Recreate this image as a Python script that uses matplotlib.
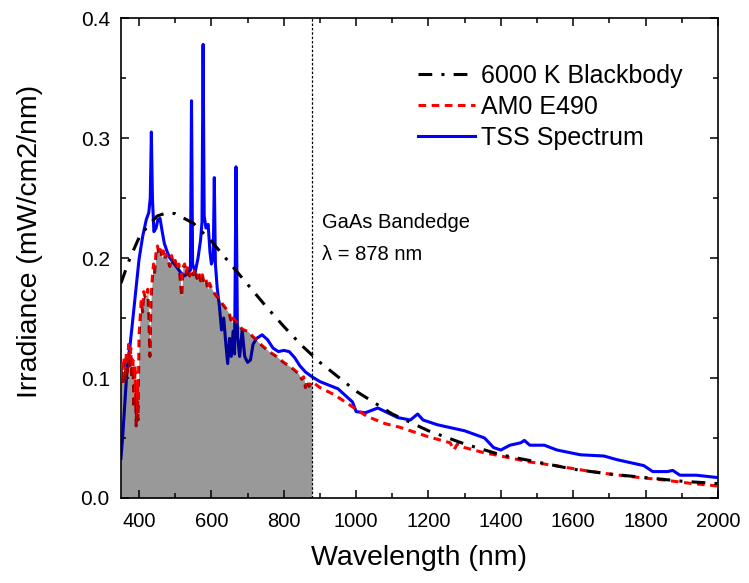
import matplotlib
matplotlib.use('Agg')
import matplotlib.pyplot as plt
from matplotlib.ticker import MultipleLocator

plt.rcParams['font.family'] = ['Liberation Sans', 'DejaVu Sans']

# 6000 K blackbody, scaled to the solar irradiance level (mW/cm2/nm)
bb_wl = [350, 375, 400, 425, 450, 475, 500, 550, 600, 650, 700, 750, 800, 850,
         900, 1000, 1100, 1200, 1300, 1400, 1500, 1600, 1700, 1800, 1900, 2000]
bb_irr = [0.179, 0.200, 0.217, 0.227, 0.235, 0.2375, 0.237, 0.229, 0.214, 0.196,
          0.178, 0.160, 0.143, 0.127, 0.113, 0.089, 0.070, 0.056, 0.045, 0.036,
          0.030, 0.024, 0.020, 0.017, 0.014, 0.012]

# ASTM E490 AM0 spectrum
am0_wl = [350, 353, 356, 359, 362, 365, 368, 371, 374, 377, 380, 383, 386, 389,
          392, 395, 397, 400, 403, 406, 410, 413, 416, 420, 424, 427, 430, 433,
          437, 440, 443, 447, 451, 455, 459, 463, 467, 471, 475, 480, 485, 490,
          495, 500, 505, 510, 515, 518, 521, 526, 530, 535, 540, 545, 550, 555,
          560, 565, 570, 575, 580, 585, 590, 595, 600, 610, 620, 630, 640, 650,
          656, 660, 670, 680, 690, 700, 720, 740, 760, 780, 800, 820, 840, 850,
          855, 860, 865, 870, 878, 900, 940, 1000, 1030, 1080, 1120, 1200, 1260,
          1270, 1280, 1300, 1350, 1400, 1480, 1550, 1630, 1700, 1770, 1850, 1930,
          2000]
am0_irr = [0.100, 0.112, 0.095, 0.118, 0.098, 0.122, 0.105, 0.128, 0.110, 0.125,
           0.100, 0.115, 0.075, 0.110, 0.060, 0.095, 0.065, 0.135, 0.150, 0.165,
           0.155, 0.172, 0.168, 0.167, 0.174, 0.152, 0.118, 0.165, 0.185, 0.195,
           0.188, 0.205, 0.210, 0.203, 0.207, 0.200, 0.206, 0.199, 0.203, 0.198,
           0.193, 0.202, 0.195, 0.198, 0.190, 0.195, 0.178, 0.168, 0.192, 0.195,
           0.187, 0.193, 0.185, 0.190, 0.186, 0.191, 0.183, 0.188, 0.181, 0.186,
           0.179, 0.182, 0.174, 0.179, 0.175, 0.170, 0.166, 0.162, 0.158, 0.153,
           0.146, 0.150, 0.146, 0.142, 0.140, 0.139, 0.133, 0.127, 0.122, 0.118,
           0.113, 0.109, 0.104, 0.099, 0.101, 0.092, 0.098, 0.093, 0.097, 0.092,
           0.086, 0.074, 0.068, 0.062, 0.059, 0.051, 0.046, 0.040, 0.045, 0.042,
           0.038, 0.035, 0.030, 0.027, 0.023, 0.020, 0.0175, 0.015, 0.012, 0.010]

# measured TSS simulator spectrum
tss_wl = [350, 355, 362, 367, 375, 380, 390, 400, 410, 420, 427, 431, 434, 437,
          441, 447, 452, 458, 464, 470, 478, 485, 495, 505, 515, 525, 535, 542,
          545, 548, 555, 563, 570, 574, 577, 580, 585, 591, 596, 600, 605, 608,
          611, 616, 622, 628, 634, 640, 645, 650, 655, 660, 664, 668, 672, 678,
          685, 692, 700, 708, 715, 725, 740, 755, 770, 785, 800, 815, 830, 845,
          860, 878, 900, 950, 990, 1000, 1025, 1060, 1115, 1150, 1170, 1185, 1225,
          1300, 1355, 1380, 1400, 1425, 1455, 1465, 1480, 1520, 1555, 1620, 1685,
          1720, 1795, 1820, 1860, 1875, 1895, 1940, 2000]
tss_irr = [0.033, 0.052, 0.085, 0.108, 0.127, 0.141, 0.170, 0.199, 0.218, 0.232,
           0.238, 0.250, 0.305, 0.250, 0.222, 0.225, 0.232, 0.233, 0.222, 0.212,
           0.205, 0.200, 0.196, 0.192, 0.188, 0.185, 0.187, 0.190, 0.331, 0.195,
           0.188, 0.200, 0.215, 0.230, 0.378, 0.235, 0.225, 0.228, 0.205, 0.195,
           0.200, 0.267, 0.195, 0.175, 0.160, 0.140, 0.150, 0.128, 0.112, 0.133,
           0.118, 0.139, 0.120, 0.276, 0.135, 0.118, 0.140, 0.118, 0.113, 0.115,
           0.128, 0.133, 0.136, 0.132, 0.125, 0.122, 0.123, 0.122, 0.117, 0.110,
           0.105, 0.101, 0.097, 0.091, 0.080, 0.072, 0.071, 0.075, 0.067, 0.065,
           0.070, 0.065, 0.061, 0.056, 0.050, 0.042, 0.040, 0.044, 0.046, 0.048,
           0.044, 0.044, 0.040, 0.036, 0.035, 0.032, 0.027, 0.022, 0.022, 0.023,
           0.019, 0.019, 0.017]

bandedge = 878

fig = plt.figure(figsize=(7.49, 5.83), dpi=100)
ax = fig.add_axes([0.1615, 0.1458, 0.797, 0.8233])

ax.plot(tss_wl, tss_irr, color='#0000ff', lw=2.2, label='TSS Spectrum', zorder=2)
ax.plot(am0_wl, am0_irr, color='#ff0000', lw=2.2, linestyle=(0, (2.5, 1.8)),
        label='AM0 E490', zorder=3)
ax.plot(bb_wl, bb_irr, color='black', lw=2.2, linestyle=(0, (4.5, 3, 1, 3)),
        label='6000 K Blackbody', zorder=4)

# shade the AM0 part that GaAs can absorb
edge_wl = [w for w in am0_wl if w <= bandedge]
edge_irr = am0_irr[:len(edge_wl)]
ax.fill_between(edge_wl, 0, edge_irr, color='black', alpha=0.4, lw=0, zorder=5)
ax.axvline(bandedge, color='black', lw=0.9, linestyle=(0, (2, 1.5)), zorder=6)

ax.text(905, 0.230, 'GaAs Bandedge', fontsize=14.5, va='center', ha='left')
ax.text(905, 0.203, '\u03bb = 878 nm', fontsize=14.5, va='center', ha='left')

ax.set_xlim(350, 2000)
ax.set_ylim(0, 0.4)
ax.xaxis.set_major_locator(MultipleLocator(200))
ax.xaxis.set_minor_locator(MultipleLocator(100))
ax.yaxis.set_major_locator(MultipleLocator(0.1))
ax.yaxis.set_minor_locator(MultipleLocator(0.05))
ax.tick_params(which='both', direction='in', top=True, right=True, width=1.1)
ax.tick_params(axis='x', which='major', labelsize=14.5, pad=10)
ax.tick_params(axis='y', which='major', labelsize=15, pad=8)
ax.tick_params(which='major', length=6)
ax.tick_params(which='minor', length=3.5)
for s in ax.spines.values():
    s.set_linewidth(1.2)

ax.set_xlabel('Wavelength (nm)', fontsize=20.5, labelpad=10)
ax.set_ylabel('Irradiance (mW/cm2/nm)', fontsize=20.5)
ax.yaxis.set_label_coords(-0.13, 0.535)

handles, labels = ax.get_legend_handles_labels()
ax.legend(handles[::-1], labels[::-1], loc='upper left', bbox_to_anchor=(0.497, 0.905),
          frameon=False, fontsize=18, handlelength=2.3, handletextpad=0.25,
          labelspacing=0.28, borderaxespad=0, borderpad=0)

fig.savefig('out.png', dpi=100)
